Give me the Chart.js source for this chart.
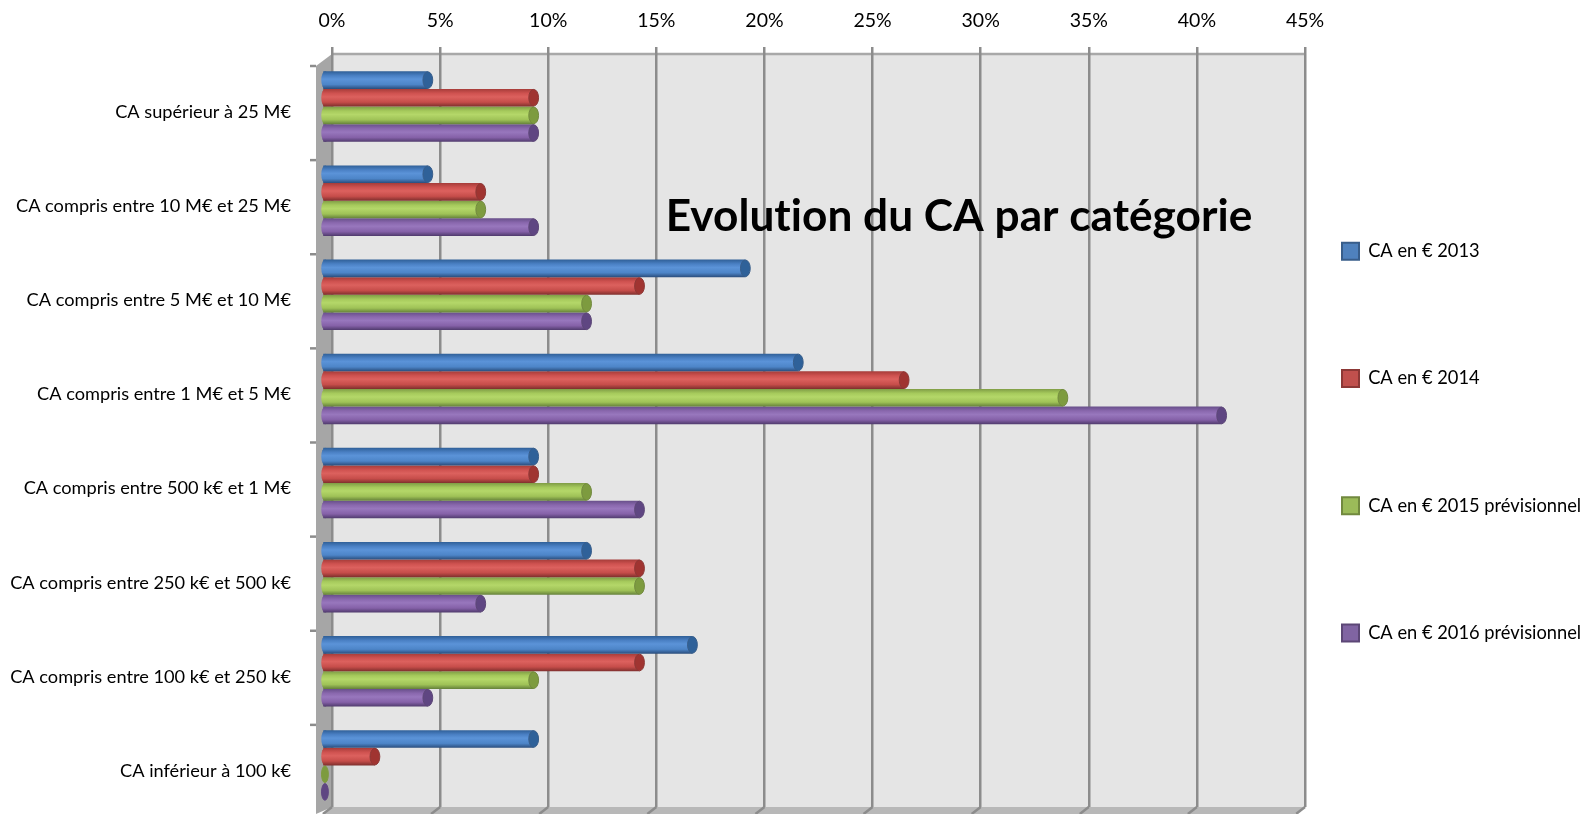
<!DOCTYPE html>
<html><head><meta charset="utf-8">
<style>html,body{margin:0;padding:0;background:#fff;overflow:hidden}canvas{display:block}</style>
<script src="https://cdn.jsdelivr.net/npm/chart.js@4"></script></head>
<body><canvas id="c" width="1593" height="814"></canvas>
<script>
const TITLE = "Evolution du CA par catégorie";
const categories = ["CA supérieur à 25 M€","CA compris entre 10 M€ et 25 M€","CA compris entre 5 M€ et 10 M€","CA compris entre 1 M€ et 5 M€","CA compris entre 500 k€ et 1 M€","CA compris entre 250 k€ et 500 k€","CA compris entre 100 k€ et 250 k€","CA inférieur à 100 k€"];
const seriesNames = ["CA en € 2013","CA en € 2014","CA en € 2015 prévisionnel","CA en € 2016 prévisionnel"];
const ca2013 = [5,5,20,22.5,10,12.5,17.5,10];
const ca2014 = [10,7.5,15,27.5,10,15,15,2.5];
const ca2015 = [10,7.5,12.5,35,12.5,15,10,0];
const ca2016 = [10,10,12.5,42.5,15,7.5,5,0];
const seriesValues = [ca2013,ca2014,ca2015,ca2016];
const solid = ["#4f81bd","#c0504d","#9bbb59","#8064a2"];
const edge  = ["#385d8a","#8c3836","#71893f","#5c4776"];
const ramps = [
 ["#2f5f97","#4a80c4","#5b93d8","#4d85c8","#2a4d7c"],
 ["#a63c39","#cf5250","#dc615e","#c64d4a","#7e2f2d"],
 ["#7f9c45","#a6ca5c","#b4d769","#9fc257","#64803a"],
 ["#684f8a","#8a68ae","#9877bd","#8561a8","#4f3a6c"]];
const caps = ["#2f6199","#a03431","#7d9b3f","#5f4682"];
const font = "Lato, Carlito, sans-serif";
const FRONT_DX = -10, FRONT_DY = 5.5, FRONT_SCALE = 0.979;
const BAND_FILL = 0.75;

function barGradient(ctx){
  const i = ctx.datasetIndex;
  if (ctx.type !== 'data') return solid[i];
  const ys = ctx.chart.scales.y, g = ctx.chart.ctx;
  if (!ys || !isFinite(ys.getPixelForValue(0))) return solid[i];
  const band = ys.height/categories.length, t = band*BAND_FILL/4;
  const c = ys.getPixelForValue(ctx.dataIndex) + (i-1.5)*t;
  const gr = g.createLinearGradient(0,c-t/2,0,c+t/2);
  [0,.25,.45,.75,1].forEach((s,k)=>gr.addColorStop(s,ramps[i][k]));
  return gr;
}
const scene = {
  id:'scene',
  beforeLayout(chart){
    const l = chart.legend;
    if (!l.__noWrap){ const f = l.fit; l.fit = function(){ this.maxHeight = 2000; f.call(this); }; l.__noWrap = true; }
  },
  afterLayout(chart){
    const l = chart.legend, p = l.options.labels.padding;
    const w = l.width;
    l.left = 1342 - p; l.right = l.left + w;
    l.top = 242 - p; l.bottom = 812;
  },
  beforeDraw(chart){
    const {ctx,chartArea:a,scales:{x,y}} = chart;
    ctx.save();
    ctx.fillStyle='#e5e5e5'; ctx.fillRect(a.left,a.top,a.right-a.left,a.bottom-a.top);
    ctx.fillStyle='#a6a6a6';
    ctx.beginPath();ctx.moveTo(a.left,a.top);ctx.lineTo(a.left-16,a.top+12);ctx.lineTo(a.left-16,814);ctx.lineTo(a.left,a.bottom);ctx.closePath();ctx.fill();
    ctx.fillStyle='#b8b8b8';
    ctx.beginPath();ctx.moveTo(a.left,a.bottom);ctx.lineTo(a.right,a.bottom);ctx.lineTo(a.right-10,814);ctx.lineTo(a.left-10,814);ctx.closePath();ctx.fill();
    ctx.strokeStyle='#8c8c8c';ctx.lineWidth=2.5;
    x.ticks.forEach((t,i)=>{const px=x.getPixelForTick(i);ctx.beginPath();ctx.moveTo(px,a.bottom);ctx.lineTo(px-9,814);ctx.stroke();});
    const band=y.height/categories.length;
    for(let i=0;i<categories.length;i++){
      const py=y.getPixelForValue(i)-band/2+12;
      ctx.beginPath();ctx.moveTo(a.left-22,py);ctx.lineTo(a.left-16,py);ctx.stroke();
    }
    ctx.strokeStyle='#a8a8a8';ctx.beginPath();ctx.moveTo(a.left,a.top);ctx.lineTo(a.right,a.top);ctx.stroke();
    ctx.restore();
  },
  beforeDatasetsDraw(chart){
    const {ctx,chartArea:a}=chart;
    ctx.save();
    ctx.translate(a.left+FRONT_DX,FRONT_DY);ctx.scale(FRONT_SCALE,1);ctx.translate(-a.left,0);
  },
  afterDatasetsDraw(chart){
    const ctx=chart.ctx;
    chart.data.datasets.forEach((d,i)=>{
      chart.getDatasetMeta(i).data.forEach((el,k)=>{
        const zero=d.data[k]===0, cx=el.x+(zero?3:0), rx=zero?3.5:5, ry=el.height/2-.5;
        if(!zero){ ctx.fillStyle=el.options.backgroundColor; ctx.beginPath();ctx.ellipse(el.base+2,el.y,4,el.height/2,0,0,Math.PI*2);ctx.fill(); }
        ctx.fillStyle=caps[i];ctx.strokeStyle=zero?caps[i]:edge[i];ctx.lineWidth=1;
        ctx.beginPath();ctx.ellipse(cx,el.y,rx,ry,0,0,Math.PI*2);ctx.fill();ctx.stroke();
      });
    });
    ctx.restore();
  },
  afterDraw(chart){
    const ctx=chart.ctx;
    ctx.save();ctx.fillStyle='#000';ctx.font='bold 44.2px '+font;ctx.textAlign='center';ctx.textBaseline='middle';
    ctx.letterSpacing='0.01px';
    ctx.fillText(TITLE,959,217);ctx.restore();
  }
};
new Chart(document.getElementById('c'),{
  type:'bar',
  plugins:[scene],
  data:{labels:categories,datasets:seriesNames.map((n,i)=>({
    label:n,data:seriesValues[i],backgroundColor:barGradient,borderWidth:0,
    categoryPercentage:BAND_FILL,barPercentage:1,clip:false}))},
  options:{
    indexAxis:'y',responsive:false,animation:false,
    layout:{padding:{top:0,left:0,right:288,bottom:7}},
    scales:{
      x:{position:'top',min:0,max:45,
        afterFit(s){s.height=54;s.paddingTop=0;s.paddingBottom=0;},
        ticks:{stepSize:5,callback:v=>v+'%',color:'#000',maxRotation:0,padding:15,font:{family:font,size:19.5}},
        grid:{color:'#8c8c8c',lineWidth:2.5,tickLength:7,tickColor:'#8c8c8c'},border:{display:false}},
      y:{afterFit(s){s.width=332;s.paddingTop=0;s.paddingBottom=0;},
        ticks:{color:'#000',padding:41,labelOffset:11,autoSkip:false,font:{family:font,size:18.2}},
        grid:{display:false,drawTicks:false},border:{display:false}}
    },
    plugins:{
      title:{display:false},tooltip:{enabled:false},
      legend:{position:'chartArea',align:'start',
        labels:{boxWidth:17,boxHeight:17,padding:109,color:'#000',font:{family:font,size:18.3},
          generateLabels:c=>seriesNames.map((n,i)=>({text:n,fillStyle:solid[i],strokeStyle:edge[i],lineWidth:2,datasetIndex:i,fontColor:'#000'}))}}
    }
  }
});
</script></body></html>
